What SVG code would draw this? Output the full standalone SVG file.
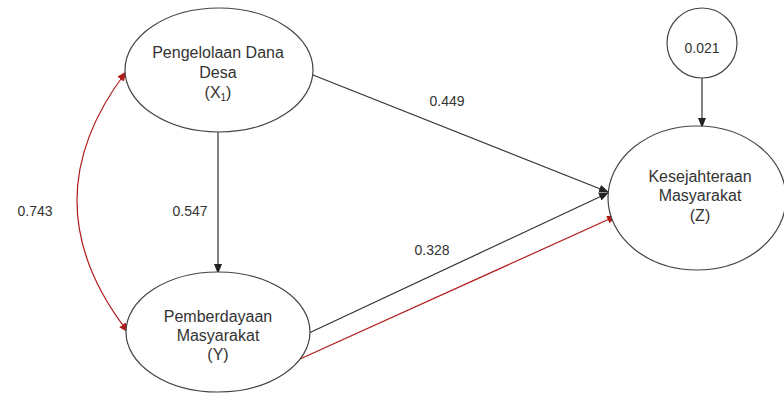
<svg xmlns="http://www.w3.org/2000/svg" width="784" height="394" viewBox="0 0 784 394">
<style>
.node{fill:#fff;stroke:#444;stroke-width:1.2}
.lbl{font-family:"Liberation Sans",Arial,sans-serif;font-size:16px;fill:#333;text-anchor:middle}
.num{font-family:"Liberation Sans",Arial,sans-serif;font-size:14px;fill:#333;text-anchor:middle}
.blk{stroke:#333;stroke-width:1.2;fill:none}
.red{stroke:#b01c1c;stroke-width:1.2;fill:none}
</style>
<defs>
<marker id="ab" markerWidth="10" markerHeight="8" refX="9" refY="4" orient="auto" markerUnits="userSpaceOnUse">
<path d="M0,0 L10,4 L0,8 Z" fill="#222"/>
</marker>
<marker id="ar" markerWidth="10" markerHeight="8" refX="9" refY="4" orient="auto" markerUnits="userSpaceOnUse">
<path d="M0,0 L10,4 L0,8 Z" fill="#b01c1c"/>
</marker>
<marker id="ars" markerWidth="10" markerHeight="8" refX="9" refY="4" orient="auto-start-reverse" markerUnits="userSpaceOnUse">
<path d="M0,0 L10,4 L0,8 Z" fill="#b01c1c"/>
</marker>
</defs>
<rect width="784" height="394" fill="#fff"/>
<g id="connectors">
<path class="blk" d="M218,132 L218,273" marker-end="url(#ab)"/>
<path class="blk" d="M313,75 L608,192" marker-end="url(#ab)"/>
<path class="blk" d="M309,333 L608,193" marker-end="url(#ab)"/>
<path class="red" d="M300,359 L616,216" marker-end="url(#ar)"/>
<path class="blk" d="M702,78 L702,127" marker-end="url(#ab)"/>
<path class="red" d="M126,72 Q27,202 128,332" marker-start="url(#ars)" marker-end="url(#ar)"/>
<text class="num" x="35" y="216">0.743</text>
<text class="num" x="190" y="216">0.547</text>
<text class="num" x="447" y="106">0.449</text>
<text class="num" x="432" y="255">0.328</text>
</g>
<g id="x1">
<ellipse class="node" cx="219" cy="70" rx="94" ry="62"/>
<text class="lbl" x="218" y="58">Pengelolaan Dana</text>
<text class="lbl" x="218" y="78">Desa</text>
<text class="lbl" x="218" y="98">(X<tspan font-size="10" dy="3">1</tspan><tspan dy="-3">)</tspan></text>
</g>
<g id="y">
<ellipse class="node" cx="218" cy="332" rx="92" ry="60"/>
<text class="lbl" x="218" y="322">Pemberdayaan</text>
<text class="lbl" x="218" y="341">Masyarakat</text>
<text class="lbl" x="218" y="360">(Y)</text>
</g>
<g id="z">
<ellipse class="node" cx="697" cy="198" rx="89" ry="72"/>
<text class="lbl" x="700" y="182">Kesejahteraan</text>
<text class="lbl" x="700" y="201">Masyarakat</text>
<text class="lbl" x="700" y="221">(Z)</text>
</g>
<g id="e">
<circle class="node" cx="702" cy="43" r="35"/>
<text class="num" x="702" y="53">0.021</text>
</g>
</svg>
